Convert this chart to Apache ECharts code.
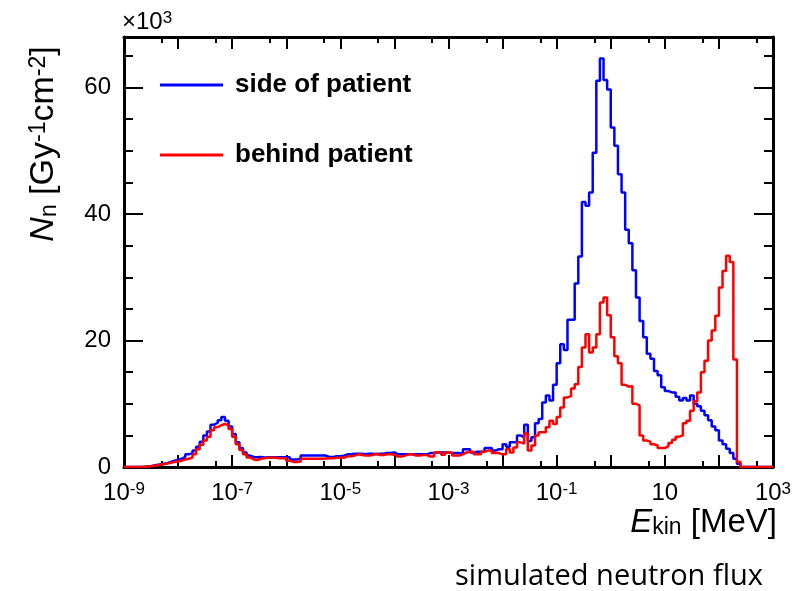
<!DOCTYPE html>
<html><head><meta charset="utf-8">
<script src="https://cdn.jsdelivr.net/npm/echarts@6/dist/echarts.min.js"></script>
<style>html,body{margin:0;padding:0;background:#fff}#c{width:798px;height:591px}</style>
</head><body><div id="c"></div>
<script>
// x axis: log10(E_kin / MeV), histogram binning
const xMinExp = -9, xMaxExp = 3, binsPerDecade = 15;
// values in units of 10^3 Gy^-1 cm^-2
const sideOfPatient = [
 0,0,0,0,0,0.05,0.1,0.2,0.3,0.4,
 0.5,0.6,0.8,1.0,1.1,1.3,1.6,2.0,2.2,2.6,
 3.2,4.0,5.0,5.6,6.7,7.0,7.4,7.9,7.3,6.4,
 5.2,3.9,3.0,2.3,1.8,1.6,1.55,1.6,1.5,1.55,
 1.55,1.55,1.55,1.55,1.55,1.55,1.2,1.2,1.3,1.8,
 1.8,1.8,1.8,1.8,1.8,1.8,1.6,1.6,1.7,1.7,
 1.8,2.0,2.0,2.1,2.1,2.1,2.0,2.1,2.1,2.0,
 2.1,2.1,2.2,2.2,2.3,2.0,2.0,2.0,2.0,2.0,
 2.0,2.0,2.0,2.0,2.2,2.2,2.3,2.3,2.3,2.3,
 2.2,2.2,2.2,2.1,2.8,2.8,2.3,2.4,2.4,2.4,
 3.0,3.0,2.6,2.8,2.8,3.6,3.2,3.9,3.9,5.0,
 4.7,6.7,4.1,4.7,6.9,7.6,10.2,11.3,10.5,13.0,
 16.4,19.4,18.5,23.3,23.3,29.0,33.3,41.9,41.3,43.4,
 49.7,61.1,64.6,61.2,59.7,53.7,50.8,46.3,43.4,37.5,
 35.4,31.1,26.8,23.1,20.5,17.9,17.1,15.2,14.5,12.6,
 12.0,11.8,11.8,11.1,10.5,10.9,10.5,11.3,10.0,9.6,
 8.9,8.2,7.4,6.4,5.8,4.2,3.6,2.9,2.2,1.3,
 0.5,0,0,0,0,0,0,0,0,0
];
const behindPatient = [
 0,0,0,0,0,0.05,0.1,0.15,0.25,0.35,
 0.45,0.55,0.65,0.8,0.9,1.0,1.2,1.3,1.5,2.0,
 2.8,3.5,4.2,4.8,5.8,6.3,6.6,6.8,6.6,6.0,
 4.8,3.6,2.7,2.0,1.5,1.2,1.1,1.3,1.4,1.5,
 1.45,1.45,1.4,1.4,1.4,1.0,0.8,0.8,0.85,1.3,
 1.3,1.3,1.3,1.3,1.3,1.35,1.4,1.4,1.45,1.45,
 1.45,1.7,1.7,1.8,2.0,1.9,1.8,1.8,1.9,2.1,
 1.9,1.9,2.0,2.0,1.95,1.65,1.65,1.8,2.0,2.0,
 1.8,1.8,1.9,1.9,1.65,1.65,2.3,2.3,1.95,2.3,
 2.3,1.8,1.8,2.0,2.3,2.4,2.4,2.0,2.0,2.4,
 2.6,2.6,2.2,2.2,2.0,2.0,2.85,2.3,3.1,3.9,
 3.7,5.3,2.6,3.4,5.0,5.5,5.5,6.3,7.3,6.8,
 7.9,9.4,11.0,11.2,12.4,13.1,15.8,18.9,21.0,18.1,
 18.9,21.0,26.0,26.8,24.0,20.5,17.5,16.4,13.0,12.7,
 12.8,10.0,9.7,5.0,4.2,4.0,3.6,3.4,3.0,3.0,
 3.3,3.8,4.3,4.8,5.0,6.9,7.3,8.9,10.4,11.8,
 15.0,16.8,20.0,21.6,23.9,28.4,31.0,33.4,32.4,17.0,
 0.8,0,0,0,0,0,0,0,0,0
];
const seriesNames = ['side of patient', 'behind patient'];
const seriesColors = ['#0000ff', '#ff0000'];
const xLabelExps = [-9, -7, -5, -3, -1, 1, 3];
const xMajorTickExps = [-9,-8,-7,-6,-5,-4,-3,-2,-1,0,1,2,3];
const xMinorTickExps = xMajorTickExps.slice(0, -1).map(n => n + Math.log10(5));
const yLabels = [0, 20, 40, 60];
const yMinorTicks = [5,10,15,25,30,35,45,50,55,65];
const yMax = 68;

const FONT = "'Liberation Sans',Arial,sans-serif";

function steps(vals) {
  const pts = [];
  for (let i = 0; i < vals.length; i++) pts.push([xMinExp + i / binsPerDecade, vals[i]]);
  pts.push([xMinExp + vals.length / binsPerDecade, vals[vals.length - 1]]);
  return pts;
}

const AX = { color: '#000', width: 3 };
const TK = { color: '#000', width: 2 };
function xAx(pos, ticks, len, showLine, labels) {
  return {
    type: 'value', min: xMinExp, max: xMaxExp, position: pos,
    axisLine: { show: showLine, onZero: false, lineStyle: AX },
    axisTick: { show: true, inside: true, length: len, customValues: ticks, lineStyle: TK },
    axisLabel: labels ? {
      show: true, customValues: xLabelExps, margin: 14, color: '#000',
      formatter: v => (Math.round(v) === 1 ? '{b|10}' : '{b|10}{s|' + Math.round(v) + '}'),
      rich: {
        b: { fontFamily: FONT, fontSize: 24, color: '#000' },
        s: { fontFamily: FONT, fontSize: 17, color: '#000', verticalAlign: 'top' }
      }
    } : { show: false },
    splitLine: { show: false }
  };
}
function yAx(pos, ticks, len, showLine, labels) {
  return {
    type: 'value', min: 0, max: yMax, position: pos,
    axisLine: { show: showLine, onZero: false, lineStyle: AX },
    axisTick: { show: true, inside: true, length: len, customValues: ticks, lineStyle: TK },
    axisLabel: labels ? { show: true, customValues: yLabels, margin: 13, color: '#000', fontFamily: FONT, fontSize: 24 } : { show: false },
    splitLine: { show: false }
  };
}

const chart = echarts.init(document.getElementById('c'), null, { renderer: 'canvas' });
chart.setOption({
  animation: false,
  backgroundColor: '#fff',
  color: seriesColors,
  grid: { left: 124, right: 25, top: 37, bottom: 124, containLabel: false },
  xAxis: [
    xAx('bottom', xMajorTickExps, 12, true, true),
    xAx('bottom', xMinorTickExps, 6, false, false),
    xAx('top', xMajorTickExps, 12, true, false),
    xAx('top', xMinorTickExps, 6, false, false)
  ],
  yAxis: [
    yAx('left', yLabels, 19, true, true),
    yAx('left', yMinorTicks, 9, false, false),
    yAx('right', yLabels, 19, true, false),
    yAx('right', yMinorTicks, 9, false, false)
  ],
  legend: {
    orient: 'vertical', left: 155, top: 67, itemWidth: 63, itemHeight: 3, itemGap: 44,
    icon: 'rect', data: seriesNames,
    textStyle: { fontFamily: FONT, fontWeight: 'bold', fontSize: 26, color: '#000', padding: [0, 0, 0, 7] }
  },
  series: seriesNames.map((n, k) => ({
    name: n, type: 'line', step: 'end', symbol: 'none', xAxisIndex: 0, yAxisIndex: 0,
    data: steps(k === 0 ? sideOfPatient : behindPatient),
    lineStyle: { width: 2.5, color: seriesColors[k] }, itemStyle: { color: seriesColors[k] },
    z: 3 + k
  })),
  graphic: [
    { type: 'text', left: 122, top: 10, style: {
      text: '{b|×10}{s|3}', rich: {
        b: { fontFamily: FONT, fontSize: 24, fill: '#000' },
        s: { fontFamily: FONT, fontSize: 17, fill: '#000', verticalAlign: 'top' } } } },
    { type: 'text', x: 44, y: 144, rotation: Math.PI / 2, style: {
      text: '{i|N}{sub|n}{b| [Gy}{sup|-1}{b|cm}{sup|-2}{b|]}', align: 'center', verticalAlign: 'middle',
      rich: {
        i: { fontFamily: FONT, fontStyle: 'italic', fontSize: 34, fill: '#000' },
        b: { fontFamily: FONT, fontSize: 34, fill: '#000' },
        sub: { fontFamily: FONT, fontSize: 23, fill: '#000', verticalAlign: 'bottom' },
        sup: { fontFamily: FONT, fontSize: 23, fill: '#000', verticalAlign: 'top' } } } },
    { type: 'text', x: 777, y: 523, style: {
      text: '{i|E}{sub|kin}{b| [MeV]}', align: 'right', verticalAlign: 'middle',
      rich: {
        i: { fontFamily: FONT, fontStyle: 'italic', fontSize: 33, fill: '#000' },
        b: { fontFamily: FONT, fontSize: 33, fill: '#000' },
        sub: { fontFamily: FONT, fontSize: 23, fill: '#000', verticalAlign: 'bottom' } } } },
    { type: 'text', x: 455, y: 577, style: {
      text: 'simulated neutron flux', align: 'left', verticalAlign: 'middle',
      fontFamily: "'Open Sans','Noto Sans',sans-serif", fontSize: 29, fill: '#000' } }
  ]
});
</script></body></html>
